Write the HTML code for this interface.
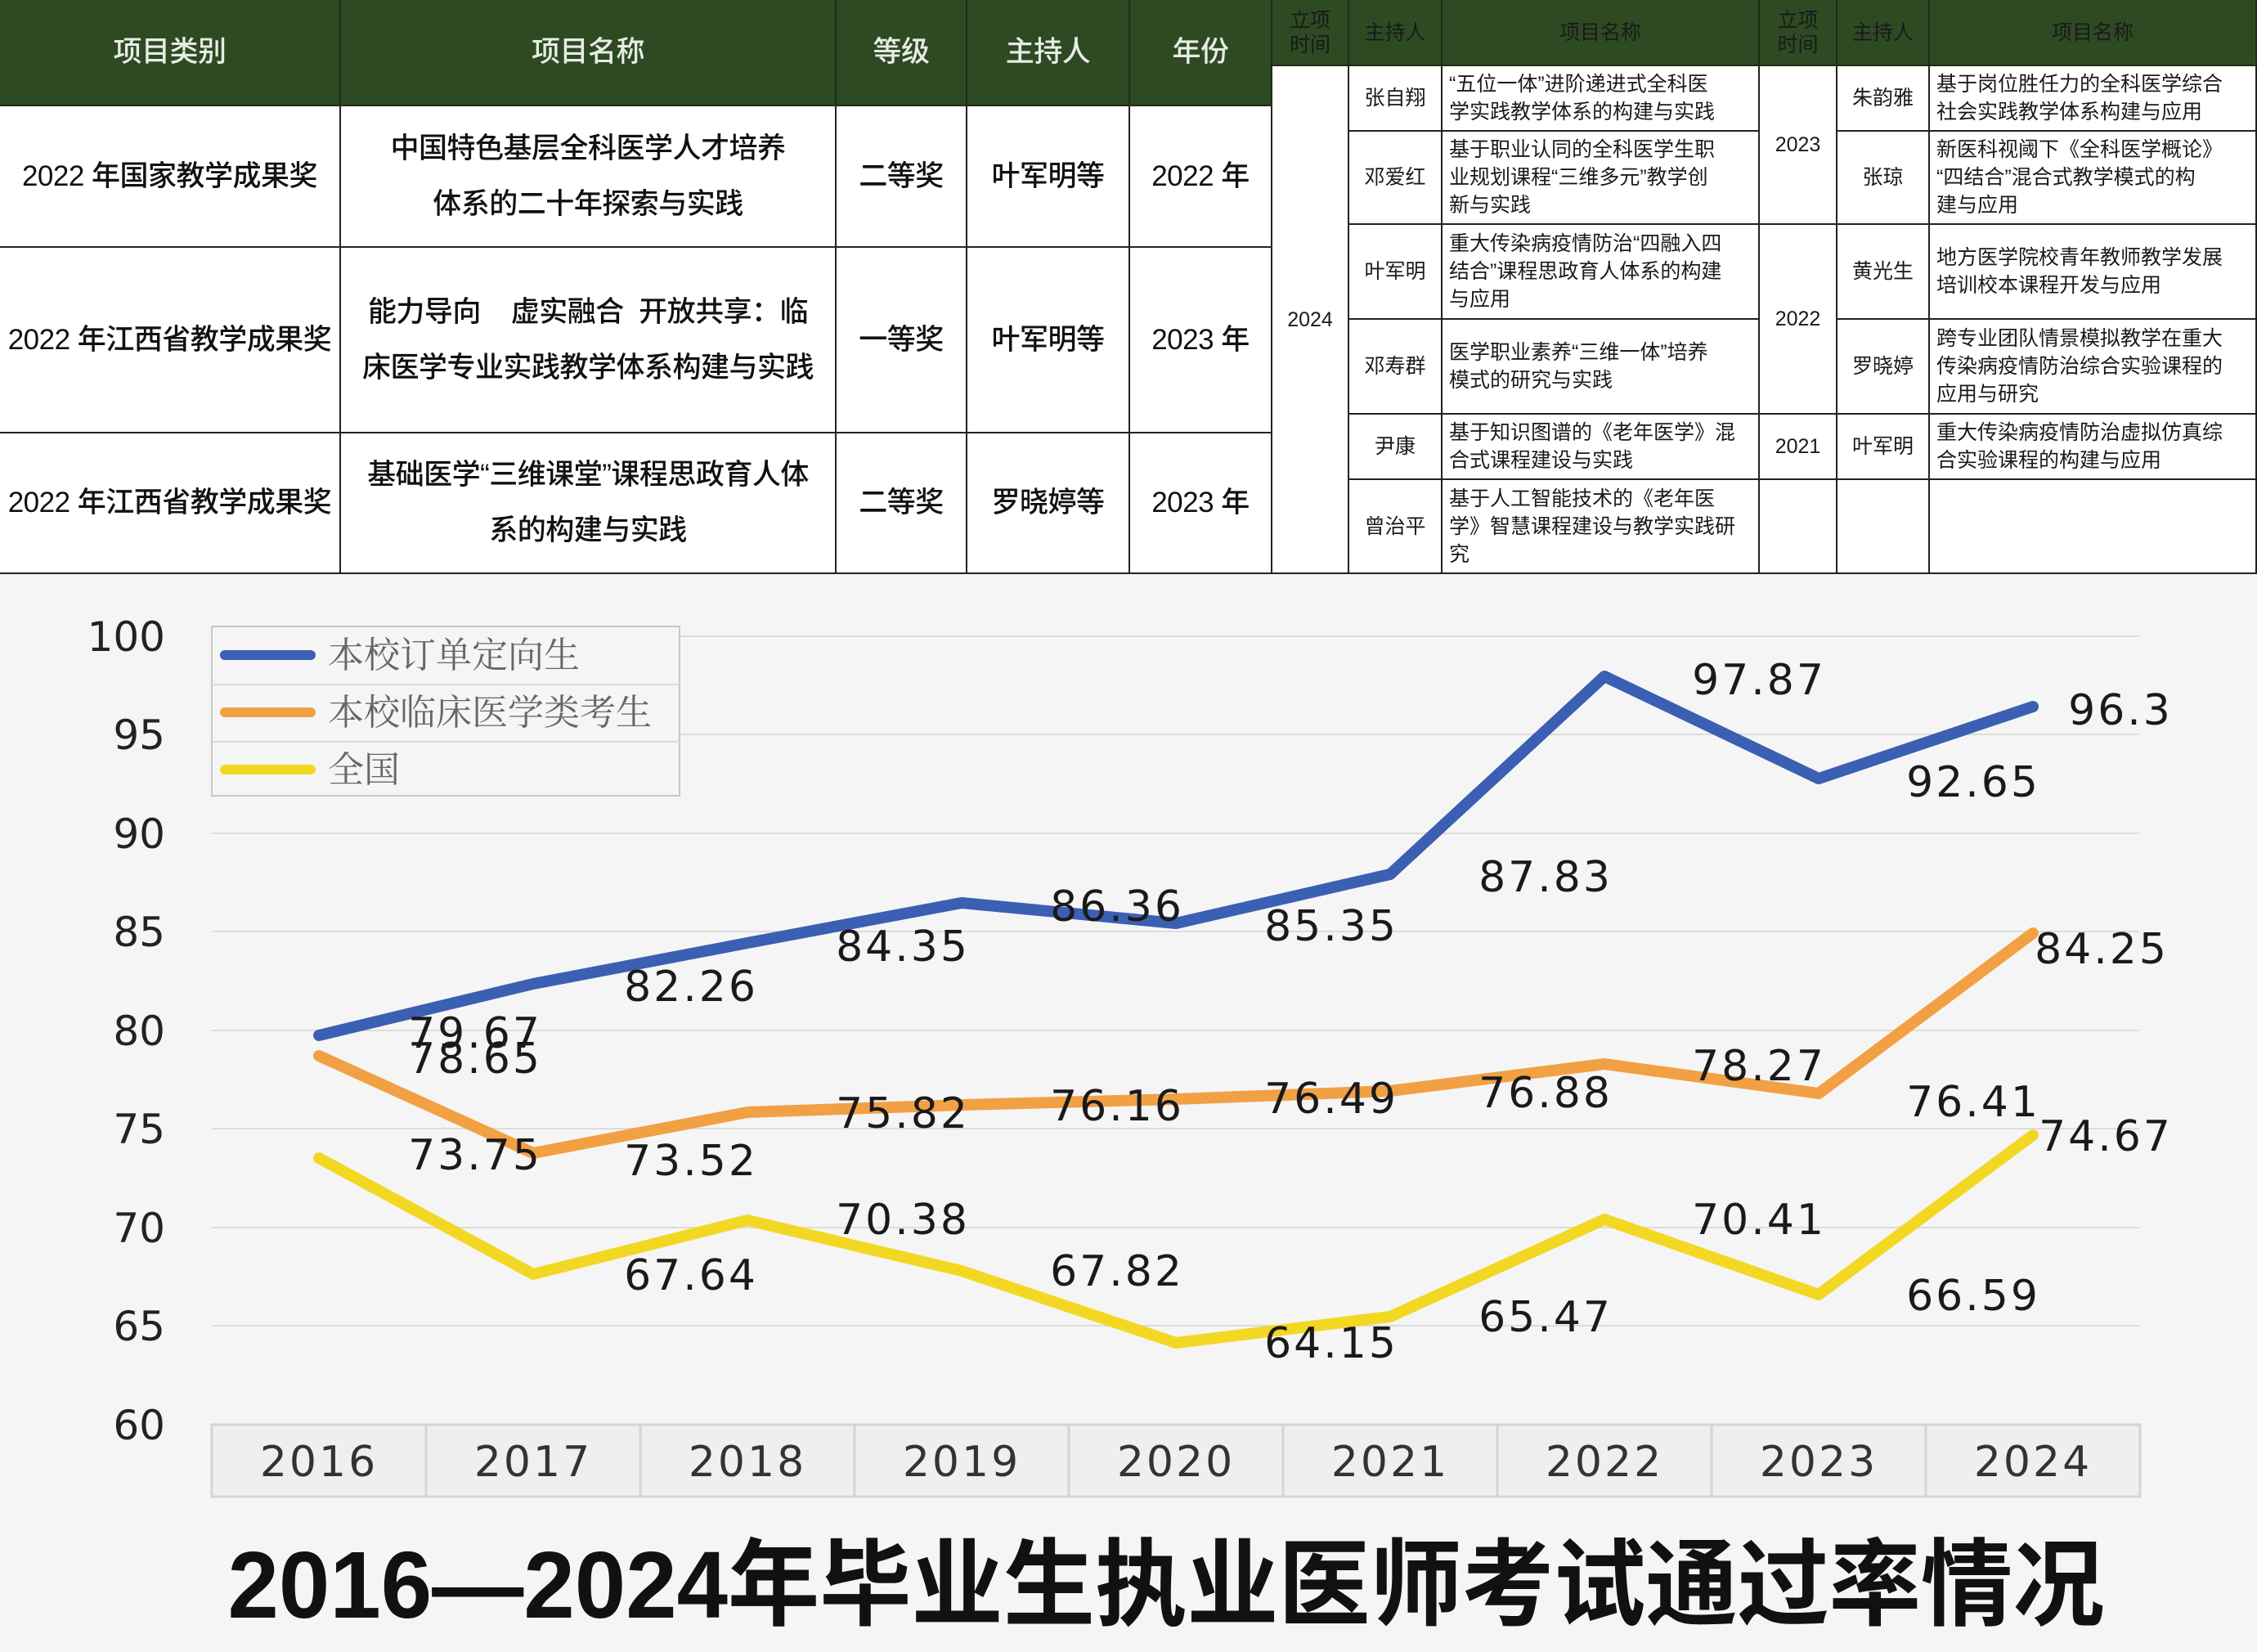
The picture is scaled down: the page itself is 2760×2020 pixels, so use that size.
<!DOCTYPE html>
<html><head><meta charset="utf-8"><style>
body{margin:0;width:2760px;height:2020px;position:relative;background:#f5f5f5;overflow:hidden;font-family:"Liberation Sans","Noto Sans CJK SC",sans-serif}
.c{position:absolute;display:flex;align-items:center;justify-content:center;text-align:center;box-sizing:border-box;border-right:2px solid #222;border-bottom:2px solid #222;background:#fff;color:#111}
.h{background:#2d4a23;color:#e8ece4;border-color:#1c2f16}
.L{font-size:35px;line-height:68px;font-weight:500;white-space:nowrap;letter-spacing:-0.5px}
.R{font-size:25px;line-height:34px;color:#1a1a1a;white-space:nowrap}
.t{justify-content:flex-start;text-align:left;padding-left:8px}
</style></head><body>
<div class="c h L" style="left:0;top:0;width:417px;height:130px">项目类别</div>
<div class="c h L" style="left:417px;top:0;width:606px;height:130px">项目名称</div>
<div class="c h L" style="left:1023px;top:0;width:160px;height:130px">等级</div>
<div class="c h L" style="left:1183px;top:0;width:199px;height:130px">主持人</div>
<div class="c h L" style="left:1382px;top:0;width:174px;height:130px">年份</div>

<div class="c L" style="left:0;top:130px;width:417px;height:173px">2022 年国家教学成果奖</div>
<div class="c L" style="left:417px;top:130px;width:606px;height:173px">中国特色基层全科医学人才培养<br>体系的二十年探索与实践</div>
<div class="c L" style="left:1023px;top:130px;width:160px;height:173px">二等奖</div>
<div class="c L" style="left:1183px;top:130px;width:199px;height:173px">叶军明等</div>
<div class="c L" style="left:1382px;top:130px;width:174px;height:173px">2022 年</div>

<div class="c L" style="left:0;top:303px;width:417px;height:227px">2022 年江西省教学成果奖</div>
<div class="c L" style="left:417px;top:303px;width:606px;height:227px">能力导向&nbsp;&nbsp;&nbsp;&nbsp;虚实融合&nbsp;&nbsp;开放共享：临<br>床医学专业实践教学体系构建与实践</div>
<div class="c L" style="left:1023px;top:303px;width:160px;height:227px">一等奖</div>
<div class="c L" style="left:1183px;top:303px;width:199px;height:227px">叶军明等</div>
<div class="c L" style="left:1382px;top:303px;width:174px;height:227px">2023 年</div>

<div class="c L" style="left:0;top:530px;width:417px;height:172px">2022 年江西省教学成果奖</div>
<div class="c L" style="left:417px;top:530px;width:606px;height:172px">基础医学“三维课堂”课程思政育人体<br>系的构建与实践</div>
<div class="c L" style="left:1023px;top:530px;width:160px;height:172px">二等奖</div>
<div class="c L" style="left:1183px;top:530px;width:199px;height:172px">罗晓婷等</div>
<div class="c L" style="left:1382px;top:530px;width:174px;height:172px">2023 年</div>

<div class="c h R" style="left:1556px;top:0;width:94px;height:81px;line-height:30px">立项<br>时间</div>
<div class="c h R" style="left:1650px;top:0;width:114px;height:81px">主持人</div>
<div class="c h R" style="left:1764px;top:0;width:388px;height:81px">项目名称</div>
<div class="c h R" style="left:2152px;top:0;width:95px;height:81px;line-height:30px">立项<br>时间</div>
<div class="c h R" style="left:2247px;top:0;width:113px;height:81px">主持人</div>
<div class="c h R" style="left:2360px;top:0;width:400px;height:81px">项目名称</div>

<div class="c R" style="left:1556px;top:81px;width:94px;height:621px">2024</div>
<div class="c R" style="left:1650px;top:81px;width:114px;height:80px">张自翔</div>
<div class="c R t" style="left:1764px;top:81px;width:388px;height:80px">“五位一体”进阶递进式全科医<br>学实践教学体系的构建与实践</div>
<div class="c R" style="left:1650px;top:161px;width:114px;height:114px">邓爱红</div>
<div class="c R t" style="left:1764px;top:161px;width:388px;height:114px">基于职业认同的全科医学生职<br>业规划课程“三维多元”教学创<br>新与实践</div>
<div class="c R" style="left:1650px;top:275px;width:114px;height:116px">叶军明</div>
<div class="c R t" style="left:1764px;top:275px;width:388px;height:116px">重大传染病疫情防治“四融入四<br>结合”课程思政育人体系的构建<br>与应用</div>
<div class="c R" style="left:1650px;top:391px;width:114px;height:116px">邓寿群</div>
<div class="c R t" style="left:1764px;top:391px;width:388px;height:116px">医学职业素养“三维一体”培养<br>模式的研究与实践</div>
<div class="c R" style="left:1650px;top:507px;width:114px;height:80px">尹康</div>
<div class="c R t" style="left:1764px;top:507px;width:388px;height:80px">基于知识图谱的《老年医学》混<br>合式课程建设与实践</div>
<div class="c R" style="left:1650px;top:587px;width:114px;height:115px">曾治平</div>
<div class="c R t" style="left:1764px;top:587px;width:388px;height:115px">基于人工智能技术的《老年医<br>学》智慧课程建设与教学实践研<br>究</div>

<div class="c R" style="left:2152px;top:81px;width:95px;height:194px">2023</div>
<div class="c R" style="left:2247px;top:81px;width:113px;height:80px">朱韵雅</div>
<div class="c R t" style="left:2360px;top:81px;width:400px;height:80px">基于岗位胜任力的全科医学综合<br>社会实践教学体系构建与应用</div>
<div class="c R" style="left:2247px;top:161px;width:113px;height:114px">张琼</div>
<div class="c R t" style="left:2360px;top:161px;width:400px;height:114px">新医科视阈下《全科医学概论》<br>“四结合”混合式教学模式的构<br>建与应用</div>
<div class="c R" style="left:2152px;top:275px;width:95px;height:232px">2022</div>
<div class="c R" style="left:2247px;top:275px;width:113px;height:116px">黄光生</div>
<div class="c R t" style="left:2360px;top:275px;width:400px;height:116px">地方医学院校青年教师教学发展<br>培训校本课程开发与应用</div>
<div class="c R" style="left:2247px;top:391px;width:113px;height:116px">罗晓婷</div>
<div class="c R t" style="left:2360px;top:391px;width:400px;height:116px">跨专业团队情景模拟教学在重大<br>传染病疫情防治综合实验课程的<br>应用与研究</div>
<div class="c R" style="left:2152px;top:507px;width:95px;height:80px">2021</div>
<div class="c R" style="left:2247px;top:507px;width:113px;height:80px">叶军明</div>
<div class="c R t" style="left:2360px;top:507px;width:400px;height:80px">重大传染病疫情防治虚拟仿真综<br>合实验课程的构建与应用</div>
<div class="c R" style="left:2152px;top:587px;width:95px;height:115px"></div>
<div class="c R" style="left:2247px;top:587px;width:113px;height:115px"></div>
<div class="c R" style="left:2360px;top:587px;width:400px;height:115px"></div>

<svg style="position:absolute;left:0;top:0" width="2760" height="2020" viewBox="0 0 2760 2020">
<rect x="0" y="704" width="2760" height="1316" fill="#f5f5f5"/>
<g stroke="#dcdcdc" stroke-width="2">
<line x1="259" x2="2616" y1="778" y2="778"/><line x1="259" x2="2616" y1="898" y2="898"/>
<line x1="259" x2="2616" y1="1019" y2="1019"/><line x1="259" x2="2616" y1="1139" y2="1139"/>
<line x1="259" x2="2616" y1="1260" y2="1260"/><line x1="259" x2="2616" y1="1380" y2="1380"/>
<line x1="259" x2="2616" y1="1501" y2="1501"/><line x1="259" x2="2616" y1="1621" y2="1621"/>
</g>
<g font-family="DejaVu Sans, sans-serif" font-size="50" fill="#222" text-anchor="end">
<text x="202" y="796">100</text><text x="202" y="916">95</text><text x="202" y="1037">90</text>
<text x="202" y="1157">85</text><text x="202" y="1278">80</text><text x="202" y="1398">75</text>
<text x="202" y="1519">70</text><text x="202" y="1639">65</text><text x="202" y="1760">60</text>
</g>
<g fill="#efefef" stroke="#d4d4d4" stroke-width="3">
<rect x="259" y="1742" width="262" height="88"/><rect x="521" y="1742" width="262" height="88"/>
<rect x="783" y="1742" width="262" height="88"/><rect x="1045" y="1742" width="262" height="88"/>
<rect x="1307" y="1742" width="262" height="88"/><rect x="1569" y="1742" width="262" height="88"/>
<rect x="1831" y="1742" width="262" height="88"/><rect x="2093" y="1742" width="262" height="88"/>
<rect x="2355" y="1742" width="262" height="88"/>
</g>
<g font-family="DejaVu Sans, sans-serif" font-size="52" fill="#333" text-anchor="middle" letter-spacing="3">
<text x="390" y="1805">2016</text><text x="652" y="1805">2017</text><text x="914" y="1805">2018</text>
<text x="1176" y="1805">2019</text><text x="1438" y="1805">2020</text><text x="1700" y="1805">2021</text>
<text x="1962" y="1805">2022</text><text x="2224" y="1805">2023</text><text x="2486" y="1805">2024</text>
</g>
<g fill="none" stroke-width="14" stroke-linejoin="round" stroke-linecap="round">
<polyline stroke="#3b5fb3" points="390,1266 652,1203 914,1153 1176,1104 1438,1129 1700,1069 1962,827 2224,952 2486,864"/>
<polyline stroke="#f2a044" points="390,1291 652,1410 914,1360 1176,1351 1438,1344 1700,1334 1962,1301 2224,1337 2486,1141"/>
<polyline stroke="#f3d823" points="390,1416 652,1558 914,1492 1176,1554 1438,1642 1700,1610 1962,1491 2224,1583 2486,1388"/>
</g>
<g font-family="DejaVu Sans, sans-serif" font-size="52" fill="#1a1a1a" text-anchor="middle" letter-spacing="3">
<text x="581" y="1281">79.67</text><text x="581" y="1312">78.65</text><text x="845" y="1224">82.26</text>
<text x="1104" y="1175">84.35</text><text x="1366" y="1126">86.36</text><text x="1628" y="1150">85.35</text>
<text x="1890" y="1090">87.83</text><text x="2151" y="849">97.87</text><text x="2413" y="974">92.65</text>
<text x="2593" y="886">96.3</text>
<text x="581" y="1430">73.75</text><text x="845" y="1437">73.52</text><text x="1104" y="1379">75.82</text>
<text x="1366" y="1370">76.16</text><text x="1628" y="1361">76.49</text><text x="1890" y="1354">76.88</text>
<text x="2151" y="1321">78.27</text><text x="2413" y="1365">76.41</text><text x="2570" y="1178">84.25</text>
<text x="845" y="1577">67.64</text><text x="1104" y="1509">70.38</text><text x="1366" y="1572">67.82</text>
<text x="1628" y="1660">64.15</text><text x="1890" y="1628">65.47</text><text x="2151" y="1509">70.41</text>
<text x="2413" y="1602">66.59</text><text x="2575" y="1407">74.67</text>
</g>
<rect x="259" y="766" width="572" height="207" fill="#f5f5f5" stroke="#c8c8c8" stroke-width="2"/>
<line x1="259" x2="831" y1="837" y2="837" stroke="#dadada" stroke-width="2"/>
<line x1="259" x2="831" y1="907" y2="907" stroke="#dadada" stroke-width="2"/>
<g stroke-width="12" stroke-linecap="round">
<line x1="275" x2="380" y1="801" y2="801" stroke="#3b5fb3"/>
<line x1="275" x2="380" y1="871" y2="871" stroke="#f2a044"/>
<line x1="275" x2="380" y1="941" y2="941" stroke="#f3d823"/>
</g>
<g font-family="Noto Serif CJK SC, serif" font-size="44" fill="#666">
<text x="401" y="816">本校订单定向生</text>
<text x="401" y="886">本校临床医学类考生</text>
<text x="401" y="956">全国</text>
</g>
<text x="1426" y="1978" text-anchor="middle" font-family="Liberation Sans, Noto Sans CJK SC, sans-serif" font-size="116" font-weight="bold" fill="#111" textLength="2295" lengthAdjust="spacingAndGlyphs">2016—2024年毕业生执业医师考试通过率情况</text>
</svg>
</body></html>
